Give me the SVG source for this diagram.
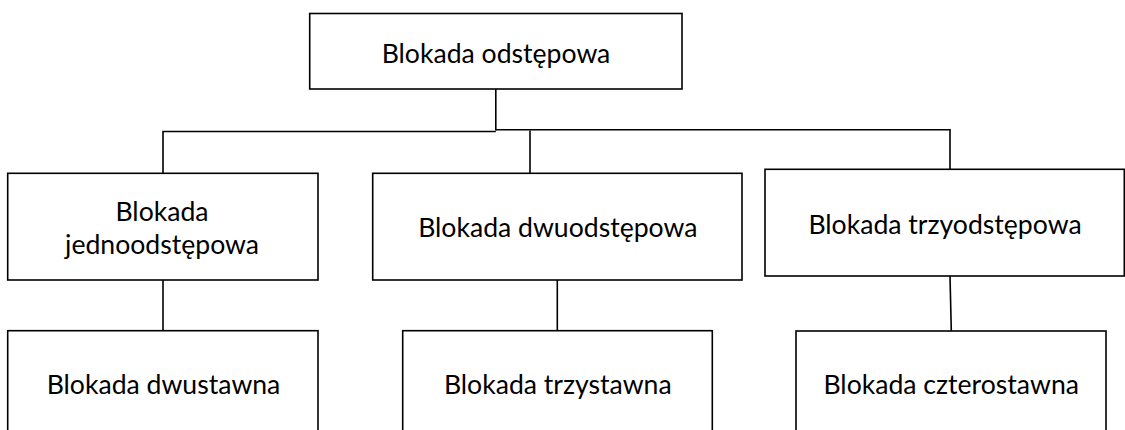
<svg xmlns="http://www.w3.org/2000/svg" width="1125" height="430" viewBox="0 0 1125 430">
  <style>
    .box { fill: #ffffff; stroke: #000000; stroke-width: 1.6; }
    .link { fill: none; stroke: #000000; stroke-width: 1.6; }
    .label { font-family: Lato, "Noto Sans", "Liberation Sans", sans-serif; font-size: 26.6px; fill: #000000; text-anchor: middle; }
  </style>
  <rect width="1125" height="430" fill="#ffffff"/>

  <g id="connectors">
    <path class="link" d="M495.8 89 V130.5"/>
    <path class="link" d="M163 173.3 V131.5 H495.8"/>
    <path class="link" d="M495.8 129.7 H950 V169.3"/>
    <path class="link" d="M530 130.5 V173"/>
    <path class="link" d="M163 280 V330.7"/>
    <path class="link" d="M557.3 280 V330.7"/>
    <path class="link" d="M950 276 L951.3 331"/>
  </g>

  <g id="node-root">
    <rect class="box" x="309.7" y="13.5" width="372.3" height="75.5"/>
    <text class="label" x="496" y="62.5">Blokada odstępowa</text>
  </g>

  <g id="node-jednoodstepowa">
    <rect class="box" x="7.7" y="173.3" width="310.3" height="106.7"/>
    <text class="label" x="162" y="221">Blokada</text>
    <text class="label" x="162" y="254.3">jednoodstępowa</text>
  </g>

  <g id="node-dwuodstepowa">
    <rect class="box" x="372.7" y="173.3" width="369.3" height="106.7"/>
    <text class="label" x="557.8" y="236.7">Blokada dwuodstępowa</text>
  </g>

  <g id="node-trzyodstepowa">
    <rect class="box" x="765" y="169.3" width="359.3" height="106.7"/>
    <text class="label" x="945" y="234">Blokada trzyodstępowa</text>
  </g>

  <g id="node-dwustawna">
    <rect class="box" x="7.7" y="330.7" width="310.3" height="110"/>
    <text class="label" x="163.5" y="394">Blokada dwustawna</text>
  </g>

  <g id="node-trzystawna">
    <rect class="box" x="402.7" y="330.7" width="309.6" height="110"/>
    <text class="label" x="557.8" y="394">Blokada trzystawna</text>
  </g>

  <g id="node-czterostawna">
    <rect class="box" x="796" y="331" width="310" height="110"/>
    <text class="label" x="951.2" y="393.5">Blokada czterostawna</text>
  </g>
</svg>
